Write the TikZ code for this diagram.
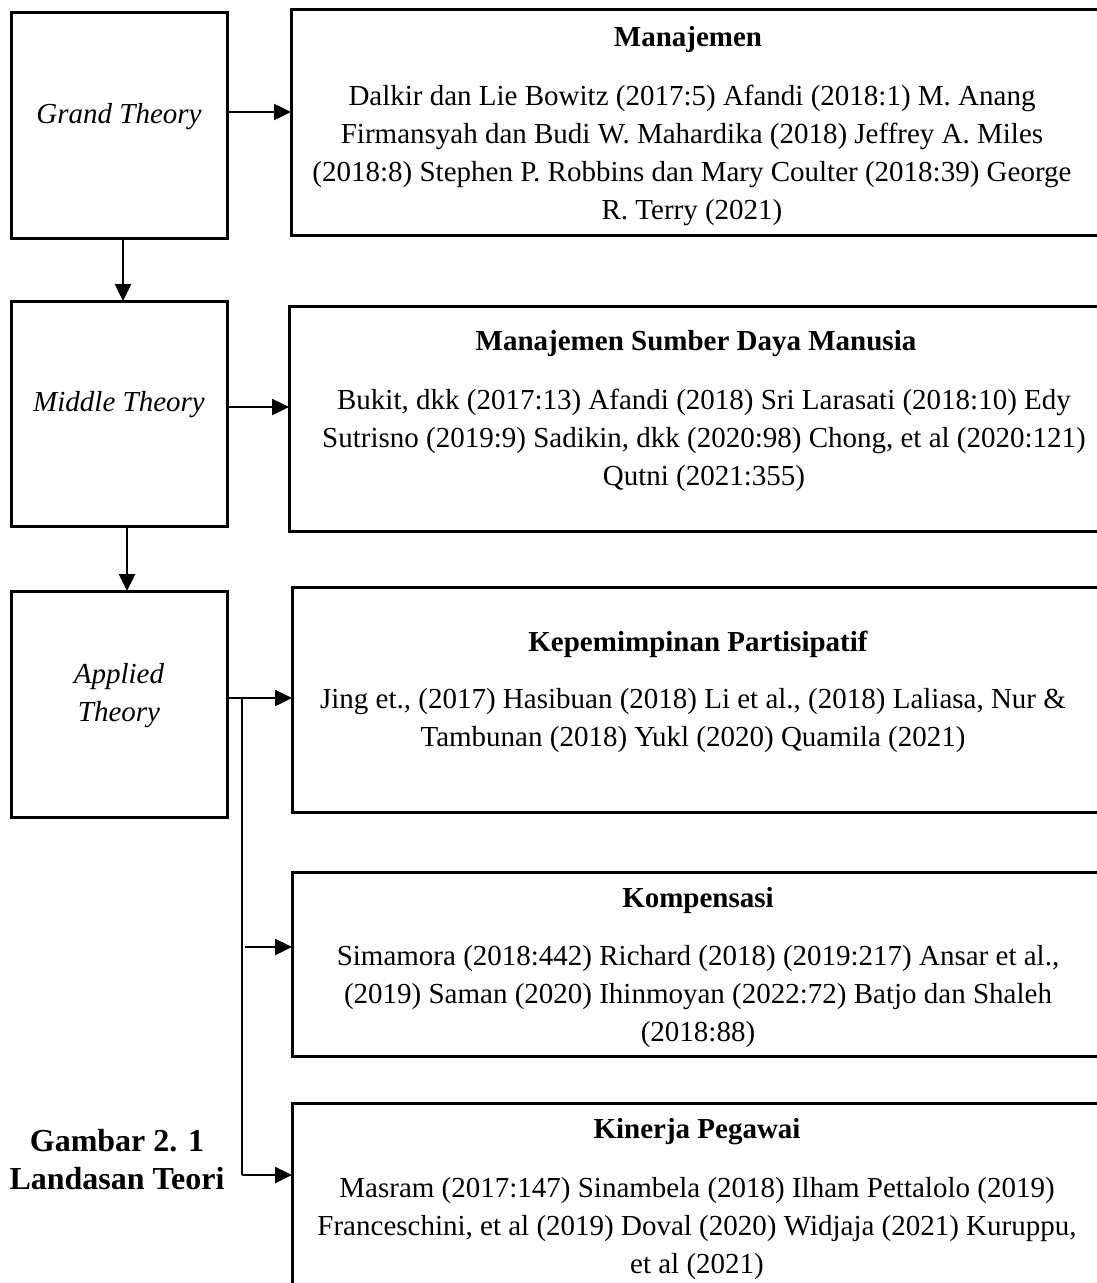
\documentclass[tikz,border=0pt]{standalone}
\usepackage{fontspec}
\setmainfont{Liberation Serif}
\usetikzlibrary{arrows.meta}
\begin{document}
\begin{tikzpicture}[x=1pt,y=-1pt,
  box/.style={draw=black,line width=3pt,inner sep=0pt,outer sep=0pt},
  lbl/.style={font=\fontsize{29}{38}\selectfont\itshape,align=center,inner sep=0pt},
  head/.style={font=\fontsize{29}{38}\selectfont\bfseries,align=center,inner sep=0pt},
  body/.style={font=\fontsize{29}{38}\selectfont,align=center,inner sep=0pt},
  arr/.style={line width=2.5pt,-{Triangle[length=17pt,width=16pt]}},
  ln/.style={line width=2.5pt}]
\useasboundingbox (0,0) rectangle (1097,1283);
\clip (0,0) rectangle (1097,1283);
\fill[white] (0,0) rectangle (1097,1283);
% left boxes
\node[box,minimum width=216pt,minimum height=226pt] (grand) at (119,125) {};
\node[box,minimum width=216pt,minimum height=225pt] (middle) at (119,413.5) {};
\node[box,minimum width=216pt,minimum height=226pt] (applied) at (119,704) {};
\node[lbl] (lgrand) at (119,117) {Grand Theory};
\node[lbl] (lmiddle) at (119,405) {Middle Theory};
\node[lbl] (lapplied) at (119,696) {Applied\\Theory};
% right boxes
\node[box,minimum width=812pt,minimum height=226pt] (mana) at (697,122) {};
\node[box,minimum width=812pt,minimum height=225pt] (msdm) at (695,418.5) {};
\node[box,minimum width=812pt,minimum height=225pt] (kep) at (698,699.5) {};
\node[box,minimum width=812pt,minimum height=184pt] (komp) at (698,964) {};
\node[box,minimum width=812pt,minimum height=220pt] (kin) at (698,1213) {};
% texts
\node[head] (hmana) at (688,40) {Manajemen};
\node[body] (bmana) at (692,155) {Dalkir dan Lie Bowitz (2017:5) Afandi (2018:1) M. Anang\\Firmansyah dan Budi W. Mahardika (2018) Jeffrey A. Miles\\(2018:8) Stephen P. Robbins dan Mary Coulter (2018:39) George\\R. Terry (2021)};
\node[head] (hmsdm) at (696,344) {Manajemen Sumber Daya Manusia};
\node[body] (bmsdm) at (704,440) {Bukit, dkk (2017:13) Afandi (2018) Sri Larasati (2018:10) Edy\\Sutrisno (2019:9) Sadikin, dkk (2020:98) Chong, et al (2020:121)\\Qutni (2021:355)};
\node[head] (hkep) at (698,644) {Kepemimpinan Partisipatif};
\node[body] (bkep) at (693,721) {Jing et., (2017) Hasibuan (2018) Li et al., (2018) Laliasa, Nur \&\\Tambunan (2018) Yukl (2020) Quamila (2021)};
\node[head] (hkomp) at (698,901) {Kompensasi};
\node[body] (bkomp) at (698,997) {Simamora (2018:442) Richard (2018) (2019:217) Ansar et al.,\\(2019) Saman (2020) Ihinmoyan (2022:72) Batjo dan Shaleh\\(2018:88)};
\node[head] (hkin) at (697,1132) {Kinerja Pegawai};
\node[body] (bkin) at (697,1229) {Masram (2017:147) Sinambela (2018) Ilham Pettalolo (2019)\\Franceschini, et al (2019) Doval (2020) Widjaja (2021) Kuruppu,\\et al (2021)};
% caption
\node[font=\fontsize{32}{38}\selectfont\bfseries,align=center,inner sep=0pt] (cap) at (117,1160) {Gambar 2. 1\\Landasan Teori};
% connectors
\draw[arr] (grand.east |- 0,112) -- (mana.west |- 0,112);
\draw[arr] (middle.east |- 0,407) -- (msdm.west |- 0,407);
\draw[arr] (applied.east |- 0,698) -- (kep.west |- 0,698);
\draw[arr] (grand.south -| 123,0) -- (middle.north -| 123,0);
\draw[arr] (middle.south -| 127,0) -- (applied.north -| 127,0);
\coordinate (branch) at (242,698);
\coordinate (elbow) at (242,1175);
\draw[ln] (branch) -- (elbow);
\draw[arr] (elbow) -- (kin.west |- elbow);
\draw[arr] (245,947) -- (komp.west |- 0,947);
\end{tikzpicture}
\end{document}
